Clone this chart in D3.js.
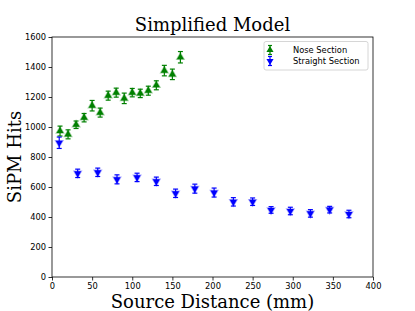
<!DOCTYPE html>
<html>
<head>
<meta charset="utf-8">
<script src="https://cdn.jsdelivr.net/npm/d3@7"></script>
<style>
  body { margin: 0; background: #fff; }
  text { fill: #000; }
</style>
</head>
<body>
<div id="chart"></div>
<script>
// nose section (green, up triangles)
var noseX = [10, 20, 30, 40, 50, 60, 70, 80, 90, 100, 110, 120, 130, 140, 150, 160];
var noseY = [973, 951, 1015, 1062, 1142, 1096, 1209, 1229, 1191, 1229, 1224, 1242, 1278, 1376, 1351, 1465];
var noseErr = [33, 30, 25, 28, 35, 30, 30, 30, 35, 28, 28, 30, 30, 35, 35, 38];

// straight section (blue, down triangles)
var straightX = [9, 32, 57, 81, 106, 130, 154, 178, 202, 226, 250, 273, 297, 322, 346, 370];
var straightY = [895, 691, 698, 651, 664, 638, 558, 589, 563, 501, 502, 447, 440, 424, 449, 420];
var straightErr = [38, 28, 28, 30, 28, 28, 28, 30, 30, 28, 25, 22, 25, 25, 22, 25];

var xTicks = [0, 50, 100, 150, 200, 250, 300, 350, 400];
var yTicks = [0, 200, 400, 600, 800, 1000, 1200, 1400, 1600];

var svgWidth = 415;
var svgHeight = 311;
var margin = {top: 37, right: 42, bottom: 34, left: 52};
var width = svgWidth - margin.left - margin.right;
var height = svgHeight - margin.top - margin.bottom;

var svg = d3.select("#chart").append("svg")
    .attr("width", svgWidth)
    .attr("height", svgHeight);

var chartGroup = svg.append("g")
    .attr("transform", `translate(${margin.left}, ${margin.top})`);

var xScale = d3.scaleLinear().domain([0, 400]).range([0, width]);
var yScale = d3.scaleLinear().domain([0, 1600]).range([height, 0]);

var bottomAxis = d3.axisBottom(xScale).tickValues(xTicks).tickFormat(d3.format("d")).tickSize(3.5).tickPadding(2.5);
var leftAxis = d3.axisLeft(yScale).tickValues(yTicks).tickFormat(d3.format("d")).tickSize(3.5).tickPadding(2.5);

var xg = chartGroup.append("g")
    .attr("transform", `translate(0, ${height})`)
    .call(bottomAxis);
var yg = chartGroup.append("g").call(leftAxis);

[xg, yg].forEach(function(g) {
  g.select(".domain").remove();
  g.selectAll("text").attr("font-family", "DejaVu Sans").attr("font-size", 8.3).attr("fill", "#000");
  g.selectAll("line").attr("stroke", "#000").attr("stroke-width", 0.8);
});

// frame
chartGroup.append("rect")
    .attr("width", width)
    .attr("height", height)
    .attr("fill", "none")
    .attr("stroke", "#000")
    .attr("stroke-width", 0.8);

function drawSeries(xs, ys, errs, color, up) {
  var g = chartGroup.append("g");
  xs.forEach(function(x, i) {
    var cx = xScale(x), cy = yScale(ys[i]);
    var y0 = yScale(ys[i] - errs[i]), y1 = yScale(ys[i] + errs[i]);
    g.append("line").attr("x1", cx).attr("x2", cx).attr("y1", y0).attr("y2", y1)
      .attr("stroke", color).attr("stroke-width", 1.2);
    g.append("line").attr("x1", cx - 2.5).attr("x2", cx + 2.5).attr("y1", y0).attr("y2", y0)
      .attr("stroke", color).attr("stroke-width", 1.2);
    g.append("line").attr("x1", cx - 2.5).attr("x2", cx + 2.5).attr("y1", y1).attr("y2", y1)
      .attr("stroke", color).attr("stroke-width", 1.2);
    g.append("path")
      .attr("d", d3.symbol().type(d3.symbolTriangle).size(22))
      .attr("transform", `translate(${cx}, ${cy}) rotate(${up ? 0 : 180})`)
      .attr("fill", color)
      .attr("stroke", color)
      .attr("stroke-opacity", 0.35)
      .attr("stroke-width", 1.5);
  });
}

drawSeries(noseX, noseY, noseErr, "green", true);
drawSeries(straightX, straightY, straightErr, "blue", false);

// legend
var legend = chartGroup.append("g").attr("transform", `translate(${264 - margin.left}, ${41.5 - margin.top})`);
legend.append("rect")
    .attr("width", 104).attr("height", 28.5).attr("rx", 2)
    .attr("fill", "#fff").attr("stroke", "#ccc").attr("stroke-width", 0.8);
var legendItems = [["Nose Section", "green", true], ["Straight Section", "blue", false]];
legendItems.forEach(function(item, i) {
  var ly = 8.5 + i * 11;
  legend.append("line").attr("x1", 6).attr("x2", 6).attr("y1", ly - 4.5).attr("y2", ly + 4.5)
    .attr("stroke", item[1]).attr("stroke-width", 1.2);
  legend.append("line").attr("x1", 4).attr("x2", 8).attr("y1", ly - 4.5).attr("y2", ly - 4.5)
    .attr("stroke", item[1]).attr("stroke-width", 1.2);
  legend.append("line").attr("x1", 4).attr("x2", 8).attr("y1", ly + 4.5).attr("y2", ly + 4.5)
    .attr("stroke", item[1]).attr("stroke-width", 1.2);
  legend.append("path")
    .attr("d", d3.symbol().type(d3.symbolTriangle).size(22))
    .attr("transform", `translate(6, ${ly}) rotate(${item[2] ? 0 : 180})`)
    .attr("fill", item[1]);
  legend.append("text")
    .attr("x", 29).attr("y", ly + 3)
    .attr("font-family", "DejaVu Sans").attr("font-size", 8.3)
    .text(item[0]);
});

// titles
svg.append("text")
    .attr("x", margin.left + width / 2).attr("y", 31)
    .attr("text-anchor", "middle")
    .attr("font-family", "DejaVu Serif").attr("font-size", 18)
    .text("Simplified Model");

svg.append("text")
    .attr("x", margin.left + width / 2).attr("y", 307.5)
    .attr("text-anchor", "middle")
    .attr("font-family", "DejaVu Serif").attr("font-size", 18)
    .text("Source Distance (mm)");

svg.append("text")
    .attr("transform", `translate(21, ${margin.top + height / 2}) rotate(-90)`)
    .attr("text-anchor", "middle")
    .attr("font-family", "DejaVu Serif").attr("font-size", 18)
    .text("SiPM Hits");
</script>
</body>
</html>
